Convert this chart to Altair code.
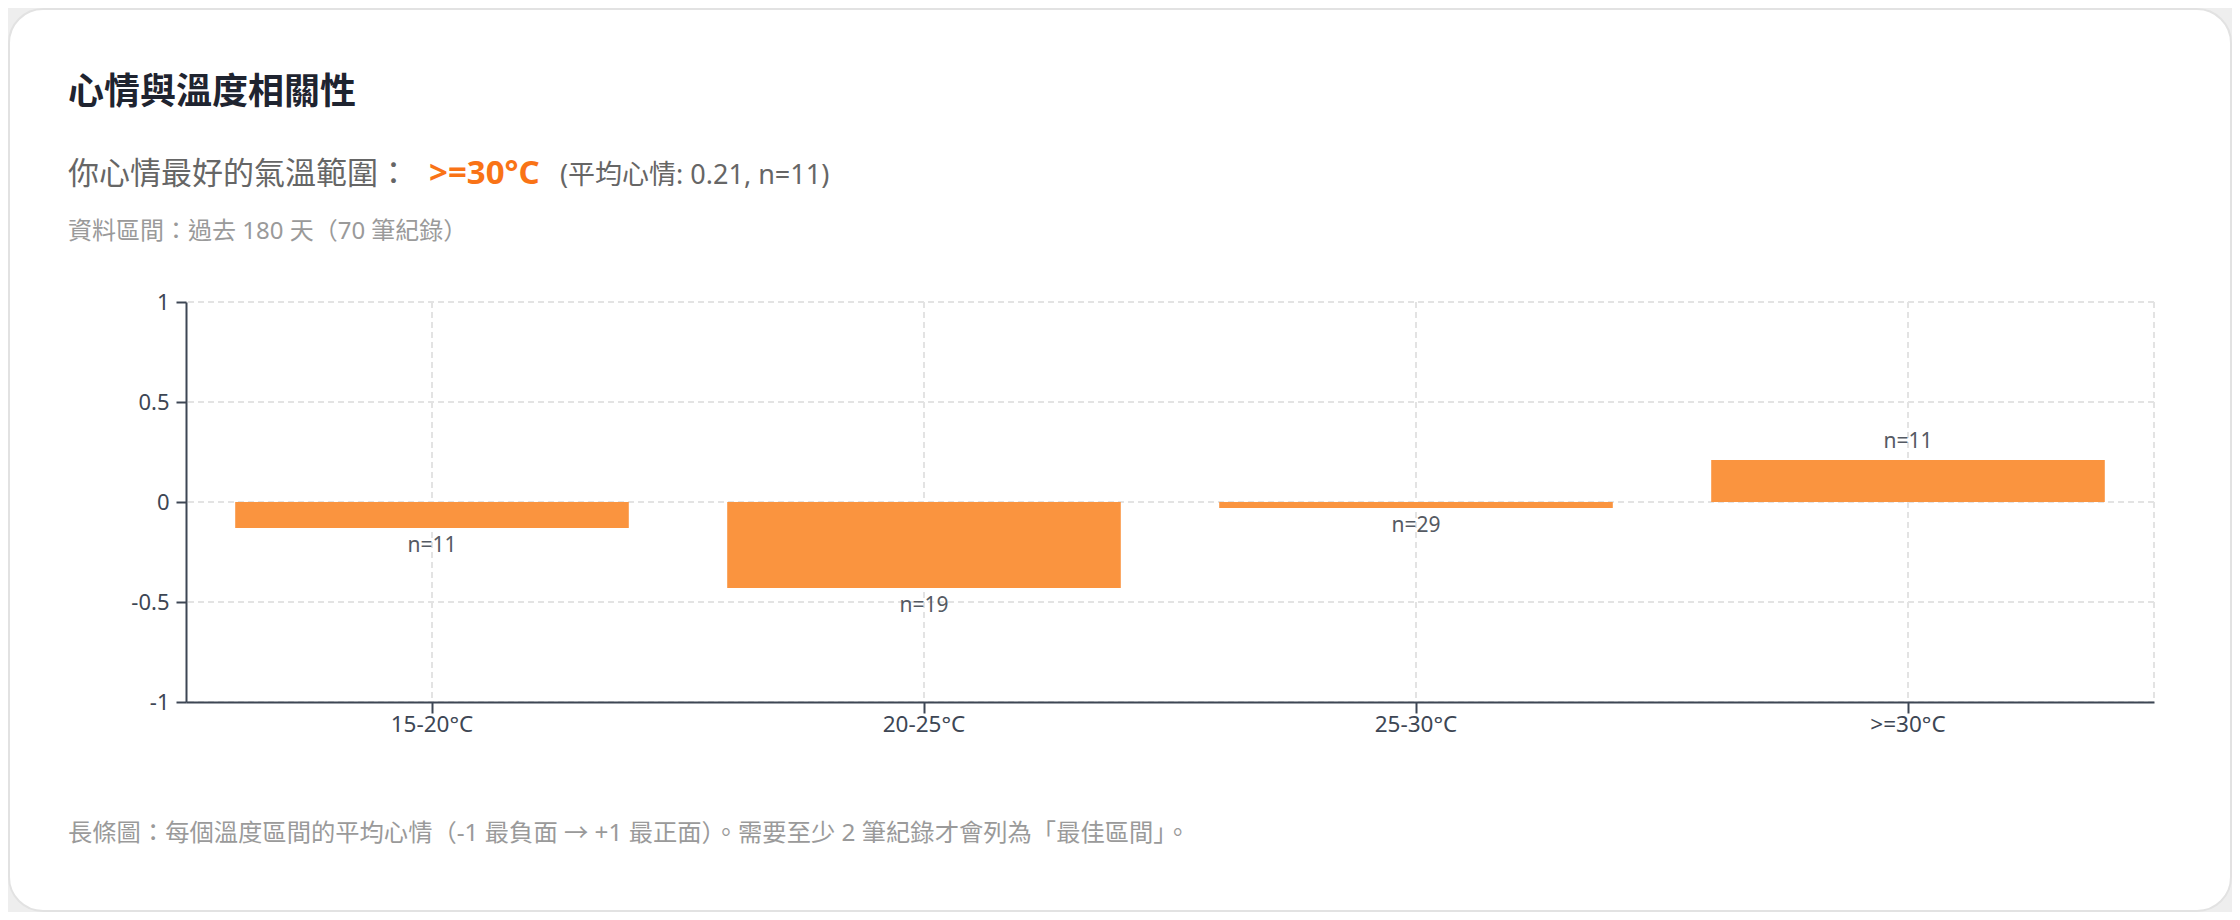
import altair as alt
import pandas as pd

# ---- data ----
categories = ["15-20°C", "20-25°C", "25-30°C", ">=30°C"]
avg_mood = [-0.13, -0.43, -0.03, 0.21]
counts = [11, 19, 29, 11]
y_ticks = [-1, -0.5, 0, 0.5, 1]

title_text = "心情與溫度相關性"
best_prefix = "你心情最好的氣溫範圍："
best_range = ">=30°C"
best_suffix = "(平均心情: 0.21, n=11)"
range_text = "資料區間：過去 180 天（70 筆紀錄）"
footnote_text = "長條圖：每個溫度區間的平均心情（-1 最負面 → +1 最正面）。需要至少 2 筆紀錄才會列為「最佳區間」。"

df = pd.DataFrame({"cat": categories, "mood": avg_mood, "n": counts})
ticks_df = pd.DataFrame({"v": y_ticks})
one = pd.DataFrame({"k": [0]})

FONT = "'Noto Sans', 'Noto Sans CJK TC', sans-serif"
W, H = 1968, 400
PAD_L, PAD_T = 178, 294
TOTAL_W, TOTAL_H = 2224, 904
AXIS_C = "#3d4654"
GRID_C = "#e3e3e3"

x_scale = alt.Scale(domain=categories, paddingInner=0.2, paddingOuter=0.1)
y_scale = alt.Scale(domain=[-1, 1], nice=False)

x_enc = alt.X(
    "cat:N",
    sort=categories,
    scale=x_scale,
    axis=alt.Axis(
        title=None, labelAngle=0, labelAlign="center", grid=False, zindex=2,
        domainColor=AXIS_C, domainWidth=2, tickColor=AXIS_C,
        tickWidth=2, tickSize=11, labelPadding=11, labelFontSize=22.5,
        labelColor=AXIS_C, labelFont=FONT,
    ),
)
y_enc = alt.Y(
    "mood:Q",
    scale=y_scale,
    axis=alt.Axis(
        title=None, values=y_ticks, labelExpr="'' + datum.value",
        grid=False, zindex=2,
        domainColor=AXIS_C, domainWidth=2, tickColor=AXIS_C,
        tickWidth=2, tickSize=10, labelPadding=7, labelFontSize=22,
        labelColor=AXIS_C, labelFont=FONT,
    ),
)

card = alt.Chart(one).mark_rect(
    fill="white", stroke="#e2e2e2", strokeWidth=2, cornerRadius=34
).encode(
    x=alt.value(-PAD_L + 1), x2=alt.value(TOTAL_W - PAD_L - 1),
    y=alt.value(-PAD_T + 1), y2=alt.value(TOTAL_H - PAD_T - 1),
)

grid_y = alt.Chart(ticks_df).mark_rule(
    color=GRID_C, strokeWidth=2, strokeDash=[6, 4]
).encode(y=alt.Y("v:Q", scale=y_scale))

grid_x = alt.Chart(df).mark_rule(
    color=GRID_C, strokeWidth=2, strokeDash=[6, 4]
).encode(x=alt.X("cat:N", sort=categories, scale=x_scale))

right_edge = alt.Chart(one).mark_rule(
    color=GRID_C, strokeWidth=2, strokeDash=[6, 4]
).encode(x=alt.value(W), y=alt.value(0), y2=alt.value(H))

bars = alt.Chart(df).mark_bar(color="#fa943f").encode(x=x_enc, y=y_enc)

neg_lbl = alt.Chart(df).transform_filter("datum.mood < 0").transform_calculate(
    lbl="'n=' + datum.n"
).mark_text(fontSize=21, color="#555a63", font=FONT, baseline="middle", dy=18).encode(
    x=alt.X("cat:N", sort=categories, scale=x_scale), y=alt.Y("mood:Q", scale=y_scale), text="lbl:N"
)
pos_lbl = alt.Chart(df).transform_filter("datum.mood >= 0").transform_calculate(
    lbl="'n=' + datum.n"
).mark_text(fontSize=21, color="#555a63", font=FONT, baseline="middle", dy=-18).encode(
    x=alt.X("cat:N", sort=categories, scale=x_scale), y=alt.Y("mood:Q", scale=y_scale), text="lbl:N"
)


def label(text, x, y, size, color, weight="normal", baseline="middle"):
    return alt.Chart(one).mark_text(
        text=text, fontSize=size, color=color, fontWeight=weight, font=FONT,
        align="left", baseline=baseline,
    ).encode(x=alt.value(x), y=alt.value(y))


texts = [
    label(title_text, -118, -209, 36, "#1f2430", "bold"),
    label(best_prefix, -118, -118, 31, "#666666", baseline="alphabetic"),
    label(best_range, 243, -118, 33, "#f97316", "bold", baseline="alphabetic"),
    label(best_suffix, 374, -118, 27, "#666666", baseline="alphabetic"),
    label(range_text, -118, -70, 24, "#9a9a9a"),
    label(footnote_text, -118, 532, 24.3, "#9a9a9a"),
]

chart = alt.layer(card, grid_y, grid_x, right_edge, bars, neg_lbl, pos_lbl, *texts).properties(
    width=W, height=H,
    autosize=alt.AutoSizeParams(type="none"),
    padding={"left": PAD_L, "top": PAD_T, "right": TOTAL_W - PAD_L - W, "bottom": TOTAL_H - PAD_T - H},
    background="#eeeeee",
).configure_view(
    stroke=None
)

chart.save("out.html", embed_options={"renderer": "svg", "actions": False})
